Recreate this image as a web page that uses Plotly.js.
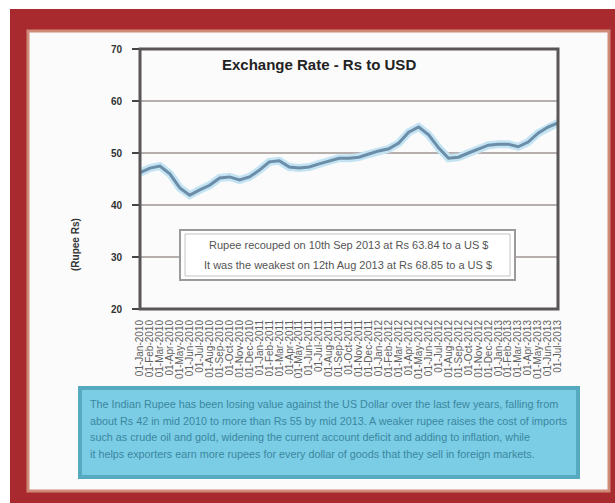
<!DOCTYPE html>
<html>
<head>
<meta charset="utf-8">
<script src="https://cdn.plot.ly/plotly-3.0.1.min.js"></script>
<style>html,body{margin:0;padding:0;background:#fff;}#chart{width:615px;height:503px;}</style>
</head>
<body>
<div id="chart"></div>
<script>
const dates = [
  "01-Jan-2010","01-Feb-2010","01-Mar-2010","01-Apr-2010","01-May-2010","01-Jun-2010",
  "01-Jul-2010","01-Aug-2010","01-Sep-2010","01-Oct-2010","01-Nov-2010","01-Dec-2010",
  "01-Jan-2011","01-Feb-2011","01-Mar-2011","01-Apr-2011","01-May-2011","01-Jun-2011",
  "01-Jul-2011","01-Aug-2011","01-Sep-2011","01-Oct-2011","01-Nov-2011","01-Dec-2011",
  "01-Jan-2012","01-Feb-2012","01-Mar-2012","01-Apr-2012","01-May-2012","01-Jun-2012",
  "01-Jul-2012","01-Aug-2012","01-Sep-2012","01-Oct-2012","01-Nov-2012","01-Dec-2012",
  "01-Jan-2013","01-Feb-2013","01-Mar-2013","01-Apr-2013","01-May-2013","01-Jun-2013",
  "01-Jul-2013"
];
const rates = [
  46.2,47.1,47.5,46.0,43.3,41.9,42.9,43.8,45.2,45.4,44.8,45.4,
  46.7,48.3,48.5,47.3,47.1,47.3,47.9,48.5,49.0,49.0,49.2,49.8,
  50.4,50.8,51.9,54.0,55.0,53.5,51.0,49.0,49.2,50.0,50.8,51.5,
  51.7,51.7,51.2,52.1,53.8,55.0,55.8
];
const yTicks = [20,30,40,50,60,70];
const chartTitle = "Exchange Rate - Rs to USD";
const yTitle = "(Rupee Rs)";
const noteLines = [
  "Rupee recouped on 10th Sep 2013 at Rs 63.84 to a US $",
  "It was the weakest on 12th Aug 2013 at Rs 68.85 to a US $"
];
const infoLines = [
  "The Indian Rupee has been losing value against the US Dollar over the last few years, falling from",
  "about Rs 42 in mid 2010 to more than Rs 55 by mid 2013. A weaker rupee raises the cost of imports",
  "such as crude oil and gold, widening the current account deficit and adding to inflation, while",
  "it helps exporters earn more rupees for every dollar of goods that they sell in foreign markets."
];

// pixel -> paper helpers (plot area: x 140..558, y 49..309)
const L = 140, R = 558, T = 49, B = 309;
const px = x => (x - L) / (R - L);
const py = y => (B - y) / (B - T);

const traces = [
  {x: dates, y: rates, type: 'scatter', mode: 'lines',
   line: {color: '#c4e4f3', width: 8}, hoverinfo: 'skip', showlegend: false},
  {x: dates, y: rates, type: 'scatter', mode: 'lines',
   line: {color: '#6b8da8', width: 3}, showlegend: false}
];

const shapes = [
  {type:'rect', xref:'paper', yref:'paper', layer:'below',
   x0:px(10), x1:px(616), y0:py(504), y1:py(9),
   fillcolor:'#a8292e', line:{width:0}},
  {type:'rect', xref:'paper', yref:'paper', layer:'below',
   x0:px(28), x1:px(609), y0:py(491), y1:py(31),
   fillcolor:'#fbfbfc', line:{color:'#cf8a78', width:3}},
  {type:'rect', xref:'paper', yref:'paper', layer:'below',
   x0:px(80), x1:px(578), y0:py(477), y1:py(388),
   fillcolor:'#7acde5', line:{color:'#56aac0', width:4}},
  {type:'rect', xref:'paper', yref:'paper', layer:'above',
   x0:px(180), x1:px(515), y0:py(280), y1:py(230),
   fillcolor:'#ffffff', line:{color:'#9a9a9a', width:2}},
  {type:'rect', xref:'paper', yref:'paper', layer:'above',
   x0:px(185), x1:px(510), y0:py(276), y1:py(234),
   fillcolor:'rgba(0,0,0,0)', line:{color:'#c4c4c4', width:1}},
  {type:'rect', xref:'paper', yref:'paper', layer:'above',
   x0:0, x1:1, y0:0, y1:1,
   fillcolor:'rgba(0,0,0,0)', line:{color:'#5a5557', width:3}}
];

const annotations = [
  {xref:'paper', yref:'paper', x:px(319), y:py(64), xanchor:'center', yanchor:'middle',
   text:'<b>'+chartTitle+'</b>', showarrow:false,
   font:{family:'Liberation Sans, Arial', size:15, color:'#222'}},
  {xref:'paper', yref:'paper', x:px(75), y:py(245), xanchor:'center', yanchor:'middle',
   text:'<b>'+yTitle+'</b>', textangle:-90, showarrow:false,
   font:{family:'Liberation Sans, Arial', size:10, color:'#333'}}
];
noteLines.forEach((t, i) => annotations.push({
  xref:'paper', yref:'paper', x:px(348), y:py(245 + 20 * i), xanchor:'center', yanchor:'middle',
  text:t, showarrow:false, font:{family:'Liberation Sans, Arial', size:11, color:'#555'}
}));
infoLines.forEach((t, i) => annotations.push({
  xref:'paper', yref:'paper', x:px(88), y:py(404 + 16.5 * i), xanchor:'left', yanchor:'middle',
  text:t, showarrow:false, font:{family:'Liberation Sans, Arial', size:10.8, color:'#3c87a0'}
}));

const layout = {
  width: 615, height: 503,
  margin: {l: L, r: 615 - R, t: T, b: 503 - B, pad: 0},
  paper_bgcolor: 'rgba(0,0,0,0)',
  plot_bgcolor: '#ffffff',
  showlegend: false,
  xaxis: {
    type: 'category', range: [0, dates.length - 1],
    tickmode: 'linear', dtick: 1, tickangle: -90,
    tickfont: {family: 'Liberation Sans, Arial', size: 10, color: '#5f5f5f'},
    ticklabelstandoff: 8,
    showgrid: false, zeroline: false, showline: false, ticks: '', automargin: false
  },
  yaxis: {
    range: [20, 70], tickmode: 'array', tickvals: yTicks,
    ticktext: yTicks.map(v => '<b>'+v+'</b>'),
    tickfont: {family: 'Liberation Sans, Arial', size: 10, color: '#333'},
    ticks: 'outside', ticklen: 7, tickwidth: 2, tickcolor: '#444',
    ticklabelstandoff: 8,
    showgrid: true, gridcolor: '#b7aeae', gridwidth: 2,
    zeroline: false, showline: false, automargin: false
  },
  shapes: shapes,
  annotations: annotations
};

Plotly.newPlot('chart', traces, layout, {displayModeBar: false, staticPlot: true});
</script>
</body>
</html>
